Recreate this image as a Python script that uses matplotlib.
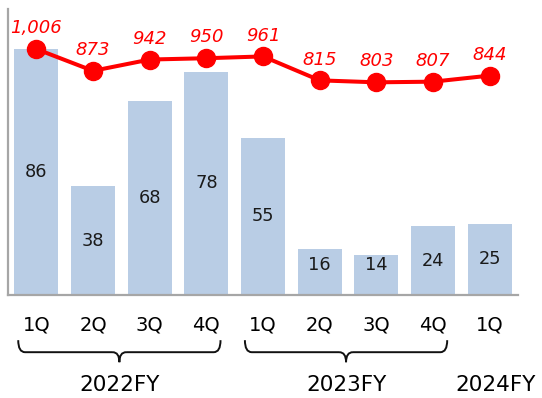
import matplotlib.pyplot as plt
from matplotlib.path import Path
from matplotlib.patches import PathPatch
import matplotlib.transforms as mtransforms

# quarterly data
quarters = ['1Q', '2Q', '3Q', '4Q', '1Q', '2Q', '3Q', '4Q', '1Q']
bar_values = [86, 38, 68, 78, 55, 16, 14, 24, 25]
line_values = [1006, 873, 942, 950, 961, 815, 803, 807, 844]
fy_labels = ['2022FY', '2023FY', '2024FY']
fy_groups = [(0, 3), (4, 7), (8, 8)]

plt.rcParams['font.family'] = ['DejaVu Sans']

fig = plt.figure(figsize=(5.42, 3.98), dpi=100)
ax = fig.add_axes([0.0148, 0.2588, 0.941, 0.7185])
x = list(range(len(quarters)))

ax.bar(x, bar_values, width=0.776, color='#B9CDE5', zorder=2)
for xi, v in zip(x, bar_values):
    # keep labels of short bars off the axis line
    ax.text(xi, max(v / 2, 10.5), str(v), ha='center', va='center',
            fontsize=12.8, color='#1a1a1a')

ax.set_xlim(-0.5, 8.5)
ax.set_ylim(0, 100)
ax.set_yticks([])
ax.set_xticks(x)
ax.set_xticklabels(quarters, fontsize=14)
ax.tick_params(axis='x', length=0, pad=15)
for s in ['top', 'right']:
    ax.spines[s].set_visible(False)
for s in ['left', 'bottom']:
    ax.spines[s].set_color('#A6A6A6')
    ax.spines[s].set_linewidth(1.6)

ax2 = ax.twinx()
ax2.set_ylim(-494, 1250)
ax2.plot(x, line_values, color='#FF0000', lw=2.9, marker='o', ms=13, zorder=3)
for xi, v in zip(x, line_values):
    ax2.annotate(f'{v:,}', (xi, v), xytext=(0, 15), textcoords='offset points',
                 ha='center', va='center', fontsize=13, style='italic', color='#FF0000')
ax2.set_yticks([])
for s in ['top', 'right', 'left', 'bottom']:
    ax2.spines[s].set_visible(False)

# braces under the quarters of each fiscal year
trans = mtransforms.blended_transform_factory(ax.transData, ax.transAxes)
top, mid, tip = -0.158, -0.2, -0.235
for (a, b), lab in zip(fy_groups, fy_labels):
    if b > a:
        x0, x1 = a - 0.32, b + 0.25
        c = (x0 + x1) / 2
        r = 0.12
        verts = [(x0, top), (x0, mid), (x0 + r, mid), (c - r, mid), (c - r, mid),
                 (c, mid), (c, tip),
                 (c, mid), (c + r, mid), (c + r, mid), (x1 - r, mid), (x1, mid), (x1, top)]
        codes = [Path.MOVETO, Path.CURVE3, Path.CURVE3, Path.LINETO, Path.MOVETO,
                 Path.CURVE3, Path.CURVE3,
                 Path.CURVE3, Path.CURVE3, Path.MOVETO, Path.LINETO, Path.CURVE3, Path.CURVE3]
        ax.add_patch(PathPatch(Path(verts, codes), transform=trans, fill=False,
                               lw=1.4, color='#111111', clip_on=False))
    else:
        c = a + 0.1
    ax.text(c, -0.315, lab, transform=trans, ha='center', va='center', fontsize=15.5)

fig.savefig('out.png', dpi=100)
